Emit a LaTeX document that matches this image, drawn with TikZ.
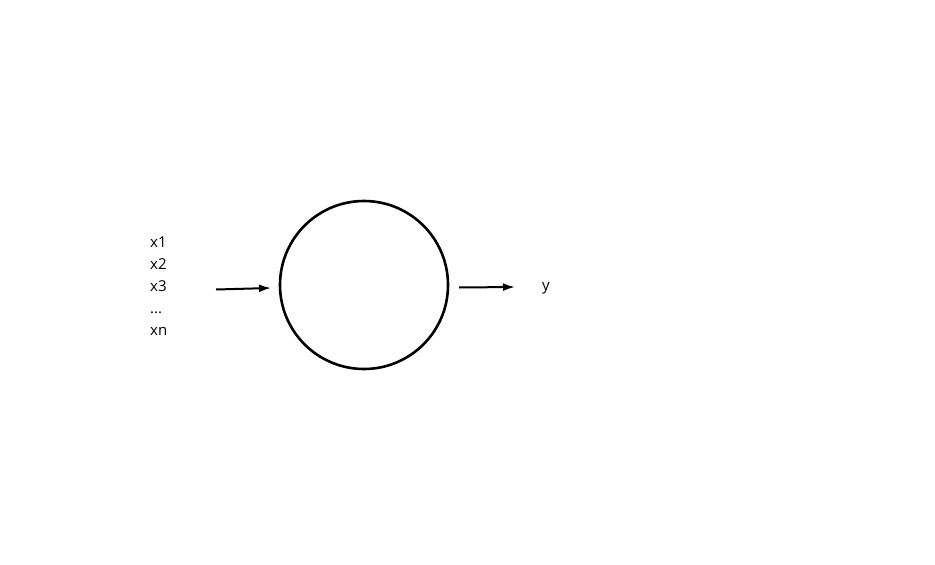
\documentclass[tikz,border=0pt]{standalone}
\usepackage{fontspec}
\setmainfont{Open Sans}
\usetikzlibrary{arrows.meta}
\begin{document}
\begin{tikzpicture}[x=1pt,y=-1pt,
  lbl/.style={font=\fontsize{15}{22}\selectfont, inner sep=0pt, anchor=west},
  conn/.style={line width=2pt, -{Latex[length=12pt,width=8pt]}}]
\useasboundingbox (0,0) rectangle (935,565);
\node[circle, draw, line width=2.6pt, minimum size=168pt, inner sep=0pt] (neuron) at (364,285) {};
\node[lbl, align=left] (inputs) at (150,286) {x1\\x2\\x3\\...\\xn};
\node[lbl] (out) at (542,288) {y};
\coordinate (a1) at (216,289.5);
\coordinate (a2) at (271,288);
\coordinate (b1) at (459,287.5);
\coordinate (b2) at (515,287);
\draw[conn] (a1) -- (a2);
\draw[conn] (b1) -- (b2);
\end{tikzpicture}
\end{document}
